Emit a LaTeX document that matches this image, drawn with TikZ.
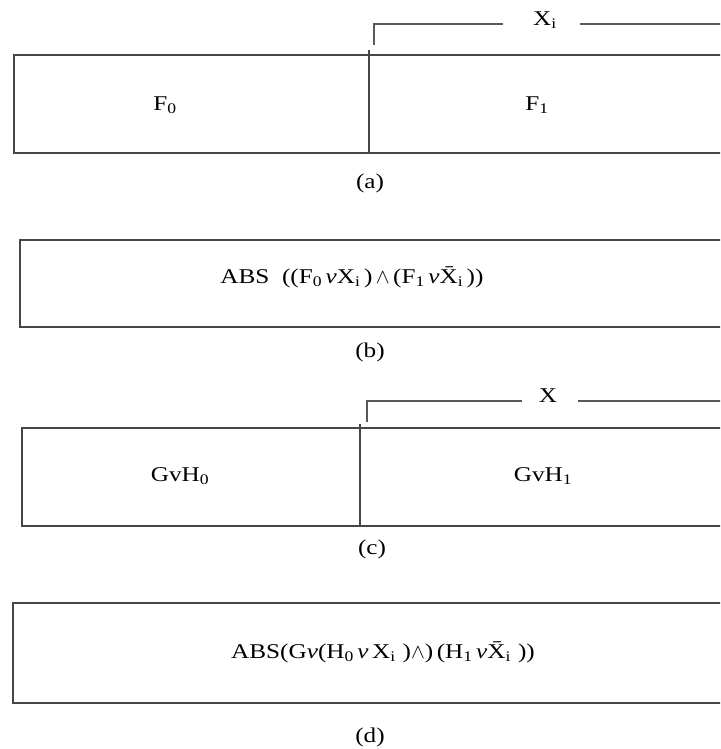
\documentclass[tikz,border=0pt]{standalone}
\usepackage{fontspec}
\setmainfont[FakeStretch=1.2]{Liberation Serif}
\newcommand{\sub}[1]{\textsubscript{#1}}
\newcommand{\xbar}{X̄}
\tikzset{
  cell/.style={draw=black!72, line width=1.4pt},
  brace/.style={draw=black!65, line width=1.4pt},
  txt/.style={inner sep=0pt, font=\fontsize{21}{25}\selectfont},
}
\begin{document}
\begin{tikzpicture}[x=1pt,y=-1pt]
    \useasboundingbox (0,0) rectangle (720,749);
    \clip (0,0) rectangle (720,749);
    % (a)
    \draw[brace] (374,45) -- (374,24) -- (503,24);
    \node[txt] (xa) at (545,20) {X\sub{i}};
    \draw[brace] (580,24) -- (725,24);
    \draw[cell] (725,55) -- (14,55) -- (14,153) -- (725,153);
    \draw[cell] (369,50) -- (369,153);
    \node[txt] (fzero) at (165,105) {F\sub{0}};
    \node[txt] (fone) at (537,105) {F\sub{1}};
    \node[txt] (capa) at (370,183) {(a)};
    % (b)
    \draw[cell] (725,240) -- (20,240) -- (20,327) -- (725,327);
    \node[txt] (absb) at (352,277) {ABS\ \ ((F\sub{0}\,\textit{v}X\sub{i}\,)\,$\wedge$\,(F\sub{1}\,\textit{v}\xbar\sub{i}\,))};
    \node[txt] (capb) at (370,352) {(b)};
    % (c)
    \draw[brace] (367,422) -- (367,401) -- (522,401);
    \node[txt] (xc) at (548,396) {X};
    \draw[brace] (578,401) -- (725,401);
    \draw[cell] (725,428) -- (22,428) -- (22,526) -- (725,526);
    \draw[cell] (360,424) -- (360,526);
    \node[txt] (gh0) at (180,476) {GvH\sub{0}};
    \node[txt] (gh1) at (543,476) {GvH\sub{1}};
    \node[txt] (capc) at (372,549) {(c)};
    % (d)
    \draw[cell] (725,603) -- (13,603) -- (13,703) -- (725,703);
    \node[txt] (absd) at (383,652) {ABS(G\textit{v}(H\sub{0}\,\textit{v}\,X\sub{i}\,\,)$\wedge$)\,(H\sub{1}\,\textit{v}\xbar\sub{i}\,\,))};
    \node[txt] (capd) at (370,737) {(d)};
\end{tikzpicture}
\end{document}
